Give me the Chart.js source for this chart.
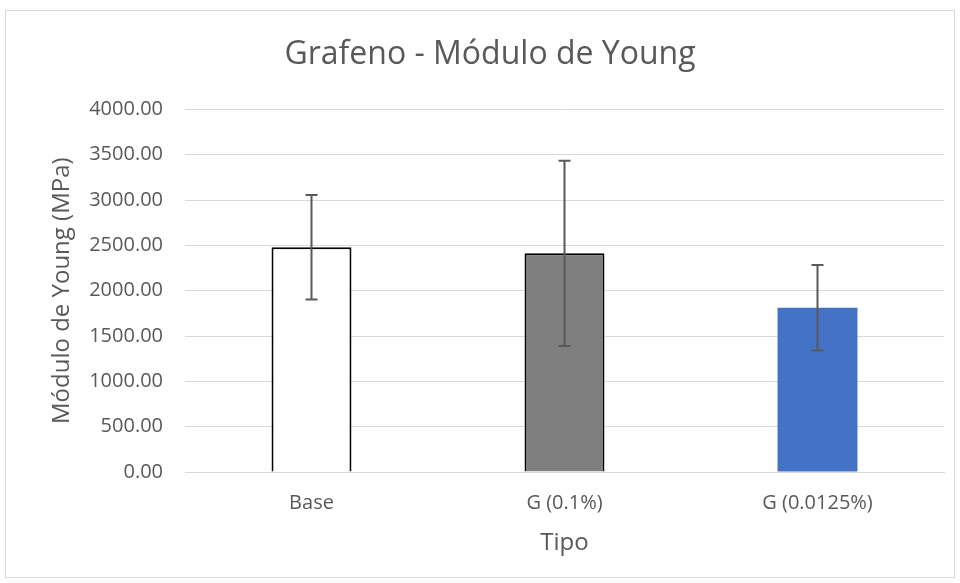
<!DOCTYPE html>
<html>
<head>
<meta charset="utf-8">
<script src="https://cdn.jsdelivr.net/npm/chart.js@4"></script>
<style>
    body { margin: 0; background: #ffffff; }
    #wrap {
        position: absolute;
        left: 5px; top: 10px;
        width: 950px; height: 568px;
        border: 1px solid #d9d9d9;
        box-sizing: border-box;
    }
</style>
</head>
<body>
<div id="wrap"><canvas id="youngChart"></canvas></div>
<script>
// Data
const categories = ["Base", "G (0.1%)", "G (0.0125%)"];
const youngValues = [2480, 2412, 1812];
const youngErrors = [577, 1022, 472];
const barColors = ["#ffffff", "#7f7f7f", "#4472c4"];
const barBorders = ["#000000", "#000000", "#4472c4"];

// draws the error bars using the chart's scales
const errorBarPlugin = {
    id: "errorBars",
    afterDatasetsDraw(chart) {
        const ctx = chart.ctx;
        const yScale = chart.scales.y;
        const meta = chart.getDatasetMeta(0);
        ctx.save();
        ctx.strokeStyle = "#595959";
        ctx.lineWidth = 2;
        meta.data.forEach((bar, i) => {
            const x = bar.x;
            const top = yScale.getPixelForValue(youngValues[i] + youngErrors[i]);
            const bottom = yScale.getPixelForValue(youngValues[i] - youngErrors[i]);
            ctx.beginPath();
            ctx.moveTo(x, top);
            ctx.lineTo(x, bottom);
            ctx.moveTo(x - 6, top);
            ctx.lineTo(x + 6, top);
            ctx.moveTo(x - 6, bottom);
            ctx.lineTo(x + 6, bottom);
            ctx.stroke();
        });
        ctx.restore();
    }
};

const ctx = document.getElementById("youngChart").getContext("2d");

new Chart(ctx, {
    type: "bar",
    data: {
        labels: categories,
        datasets: [{
            label: "Módulo de Young",
            data: youngValues,
            backgroundColor: barColors,
            borderColor: barBorders,
            borderWidth: [2, 2, 0],
            categoryPercentage: 1.0,
            barPercentage: 0.316
        }]
    },
    options: {
        responsive: true,
        maintainAspectRatio: false,
        animation: false,
        layout: { padding: { left: 30, right: 10, top: 0, bottom: 0 } },
        plugins: {
            legend: { display: false },
            tooltip: { enabled: false },
            title: {
                display: true,
                text: "Grafeno - Módulo de Young",
                color: "#595959",
                font: { family: "Open Sans", size: 32, weight: "normal" },
                padding: { top: 25, bottom: 35 }
            }
        },
        scales: {
            x: {
                grid: { display: false, drawTicks: false },
                border: { color: "#d9d9d9" },
                ticks: {
                    color: "#595959",
                    font: { family: "Open Sans", size: 20 },
                    padding: 19
                },
                title: {
                    display: true,
                    text: "Tipo",
                    color: "#595959",
                    font: { family: "Open Sans", size: 24 },
                    padding: { top: 4, bottom: 19 }
                },
                afterFit(scale) { scale.height = 105; }
            },
            y: {
                min: 0,
                max: 4000,
                grid: { color: "#d9d9d9", lineWidth: 1, drawTicks: false },
                border: { display: false },
                ticks: {
                    stepSize: 500,
                    color: "#595959",
                    font: { family: "Open Sans", size: 20 },
                    padding: 22,
                    callback: v => v.toFixed(2)
                },
                title: {
                    display: true,
                    text: "Módulo de Young (MPa)",
                    color: "#595959",
                    font: { family: "Open Sans", size: 24 },
                    padding: { top: 12, bottom: 4 }
                },
                afterFit(scale) { scale.width = 149; }
            }
        }
    },
    plugins: [errorBarPlugin]
});
</script>
</body>
</html>
